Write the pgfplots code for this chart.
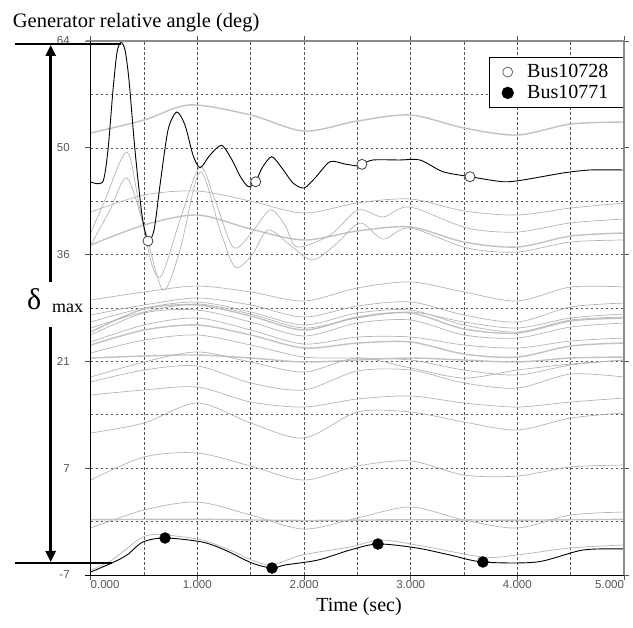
\documentclass[border=0pt]{standalone}
\usepackage{fontspec}
\setmainfont{Liberation Serif}
\newfontfamily\sansfont{Liberation Sans}
\usepackage{pgfplots}
\pgfplotsset{compat=1.18}
\usetikzlibrary{arrows.meta}
\definecolor{thinc}{RGB}{180,180,180}
\definecolor{thickc}{RGB}{194,194,194}
\definecolor{gridc}{RGB}{85,85,85}
\definecolor{framec}{RGB}{140,140,140}
\pgfplotsset{
  gthin/.style={thinc, line width=0.7pt, smooth, forget plot},
  gthick/.style={thickc, line width=1.4pt, smooth, forget plot},
}
\begin{document}
\begin{tikzpicture}
\useasboundingbox (0pt,0pt) rectangle (633pt,-628pt);
\begin{axis}[
  scale only axis, width=533.3pt, height=534pt,
  at={(90.7pt,-575pt)}, anchor=south west,
  xmin=0, xmax=5, ymin=-7, ymax=64,
  xtick={0,1,2,3,4,5},
  xticklabels={\makebox[0pt][l]{0.000},1.000,2.000,3.000,4.000,\makebox[0pt][r]{5.000}},
  minor xtick={0.5,1.5,2.5,3.5,4.5},
  ytick={-7,7.2,21.4,35.6,49.8,64}, yticklabels={-7,7,21,36,50,64},
  minor ytick={0.1,14.3,28.5,42.7,56.9},
  grid=both,
  major grid style={gridc, dash pattern=on 2.5pt off 2.5pt, line width=0.6pt},
  minor grid style={gridc, dash pattern=on 2.5pt off 2.5pt, line width=0.6pt},
  axis line style={draw=none},
  tick style={gridc, line width=0.8pt},
  tick align=outside, major tick length=5.5pt, minor tick length=0pt,
  ticklabel style={font=\sansfont\fontsize{11.5}{13}\selectfont, text=gridc},
  yticklabel style={xshift=-12pt},
  xticklabel style={yshift=4pt},
  clip=false,
  legend style={at={(1,0.970)}, anchor=north east, draw=black, line width=1.3pt,
    fill=white, font=\fontsize{20}{20}\selectfont, inner xsep=13pt, inner ysep=5pt,
    row sep=2pt, /tikz/every odd column/.append style={column sep=12pt}},
  legend cell align=left,
]
% light grey curves
\addplot[gthick] coordinates {(0,51.77)(0.5,53.49)(0.93,55.5)(1.5,54.16)(2,52.03)(2.5,53.36)(3,54.16)(3.5,52.43)(4,51.50)(4.5,52.96)(5,53.23)};
\addplot[gthin] coordinates {(0,41.26)(0.5,43.52)(1,44.05)(1.5,42.72)(2,41.13)(2.5,42.46)(3,42.99)(3.5,41.40)(4,40.86)(4.5,41.79)(5,42.46)};
\addplot[gthick] coordinates {(0,36.87)(0.5,39.53)(1,40.86)(1.5,39.00)(2,37.54)(2.5,38.74)(3,39.27)(3.5,37.27)(4,36.61)(4.5,38.07)(5,38.47)};
\addplot[gthin] coordinates {(0,38.47)(0.134,42.86)(0.34,49.24)(0.462,41.53)(0.575,34.22)(0.668,32.89)(0.837,40.20)(1.025,47.25)(1.165,42.86)(1.334,36.61)(1.493,38.20)(1.681,41.53)(1.822,39.53)(1.934,36.61)(2.244,38.20)(2.506,41.53)(2.74,40.60)(2.993,41.93)(3.528,39.14)(3.997,38.60)(4.493,39.80)(5,40.33)};
\addplot[gthin] coordinates {(0,36.87)(0.181,41.53)(0.34,45.78)(0.509,38.87)(0.678,30.89)(0.837,36.21)(1.025,46.58)(1.212,38.87)(1.353,33.95)(1.512,35.55)(1.662,38.87)(1.869,36.87)(2.075,34.89)(2.291,36.87)(2.525,39.80)(2.74,37.67)(2.993,39.14)(3.528,36.48)(3.997,35.94)(4.493,37.27)(5,37.54)};
\addplot[gthin] coordinates {(0,29.56)(0.5,30.63)(1,31.42)(1.5,30.63)(2,29.43)(2.5,31.16)(3,31.96)(3.5,30.63)(4,29.43)(4.5,31.29)(5,31.29)};
\addplot[gthin] coordinates {(0,27.57)(0.5,28.90)(1,29.83)(1.5,28.90)(2,27.30)(2.5,28.76)(3,29.30)(3.5,27.57)(4,26.64)(4.5,28.63)(5,29.16)};
\addplot[gthin] coordinates {(0,26.64)(0.5,28.50)(1,29.30)(1.5,27.97)(2,26.24)(2.5,27.83)(3,28.23)(3.5,26.24)(4,25.31)(4.5,26.90)(5,27.30)};
\addplot[gthick] coordinates {(0,25.31)(0.5,28.37)(1,28.90)(1.5,27.44)(2,25.57)(2.5,27.30)(3,27.83)(3.5,25.71)(4,25.17)(4.5,26.77)(5,27.17)};
\addplot[gthin] coordinates {(0,25.84)(0.5,27.97)(1,29.03)(1.5,27.70)(2,25.84)(2.5,27.17)(3,27.97)(3.5,26.64)(4,25.84)(4.5,27.17)(5,27.70)};
\addplot[gthin] coordinates {(0,24.91)(0.5,27.83)(1,28.23)(1.5,26.64)(2,24.78)(2.5,26.50)(3,26.90)(3.5,24.91)(4,24.51)(4.5,25.97)(5,26.50)};
\addplot[gthin] coordinates {(0,23.98)(0.5,26.24)(1,27.17)(1.5,25.57)(2,23.71)(2.5,24.64)(3,24.64)(3.5,23.58)(4,23.18)(4.5,24.11)(5,24.51)};
\addplot[gthick] coordinates {(0,23.58)(0.5,25.57)(1,26.24)(1.5,24.91)(2,23.18)(2.5,23.84)(3,23.98)(3.5,22.38)(4,21.98)(4.5,23.45)(5,23.84)};
\addplot[gthin] coordinates {(0,22.52)(0.5,24.24)(1,24.91)(1.5,23.58)(2,21.98)(2.5,21.85)(3,21.58)(3.5,20.25)(4,19.59)(4.5,20.92)(5,21.58)};
\addplot[gthick] coordinates {(0,21.85)(0.5,22.12)(1,22.25)(1.5,21.85)(2,21.32)(2.5,21.58)(3,21.85)(3.5,21.58)(4,21.32)(4.5,21.85)(5,21.98)};
\addplot[gthin] coordinates {(0,19.32)(0.5,21.32)(1,22.65)(1.5,21.32)(2,19.99)(2.5,21.85)(3,20.52)(3.5,19.19)(4,20.25)(4.5,21.05)(5,21.58)};
\addplot[gthin] coordinates {(0,18.66)(0.5,20.25)(1,20.79)(1.5,18.53)(2,17.60)(2.5,20.12)(3,20.25)(3.5,18.53)(4,17.86)(4.5,19.72)(5,19.32)};
\addplot[gthin] coordinates {(0,16.93)(0.5,17.60)(1,17.99)(1.5,16.00)(2,15.34)(2.5,16.40)(3,16.80)(3.5,15.87)(4,15.34)(4.5,16.00)(5,16.53)};
\addplot[gthin] coordinates {(0,11.88)(0.5,13.21)(1,15.87)(1.5,13.21)(2,11.21)(2.5,14.67)(3,14.67)(3.5,13.34)(4,12.28)(4.5,13.87)(5,14.54)};
\addplot[gthin] coordinates {(0,5.63)(0.5,8.69)(1,9.22)(1.5,7.49)(2,5.63)(2.5,7.49)(3,8.16)(3.5,6.29)(4,6.16)(4.5,7.36)(5,7.62)};
\addplot[gthin] coordinates {(0,-0.75)(0.5,1.64)(1,2.70)(1.5,0.98)(2,-0.89)(2.5,0.58)(3,2.04)(3.5,0.31)(4,-0.75)(4.5,0.98)(5,1.37)};
\addplot[gthick] coordinates {(0,0.35)(1,0.40)(2,0.25)(3,0.35)(4,0.30)(5,0.40)};
\addplot[gthin] coordinates {(0,-6.34)(0.2,-5.01)(0.49,-1.95)(0.697,-1.68)(1.043,-2.35)(1.306,-3.68)(1.512,-5.01)(1.7,-5.67)(1.981,-4.34)(2.431,-3.28)(2.712,-2.35)(3.059,-3.01)(3.677,-4.61)(3.996,-4.34)(4.493,-3.41)(5,-3.01)};
% Bus10728
\addplot[black, line width=0.9pt, smooth, tension=0.45, forget plot] coordinates {(0,45.25)(0.1125,45.25)(0.162,49.51)(0.209,57.48)(0.247,62.54)(0.284,63.8)(0.322,62.80)(0.359,58.81)(0.415,49.51)(0.481,40.86)(0.537,37.41)(0.594,38.87)(0.650,44.85)(0.725,52.17)(0.806,54.56)(0.884,52.83)(0.959,48.84)(1.025,47.15)(1.119,48.84)(1.228,50.13)(1.325,48.18)(1.400,46.05)(1.477,44.63)(1.547,45.29)(1.606,47.11)(1.697,48.62)(1.793,47.11)(1.897,45.12)(2.0,44.45)(2.103,45.78)(2.243,47.95)(2.384,47.64)(2.506,47.38)(2.543,47.60)(2.646,48.18)(2.899,48.18)(3.087,48.18)(3.303,46.62)(3.556,45.96)(3.865,45.29)(4.053,45.52)(4.428,46.45)(4.681,46.85)(5,46.85)};
% Bus10771
\addplot[black, line width=0.9pt, smooth, forget plot] coordinates {(0,-6.60)(0.197,-5.41)(0.34,-4.34)(0.49,-2.61)(0.697,-2.08)(1.043,-2.61)(1.259,-3.68)(1.512,-5.41)(1.7,-6.07)(1.822,-5.67)(2.131,-5.01)(2.431,-3.68)(2.693,-2.88)(3.059,-3.41)(3.368,-4.34)(3.677,-5.27)(4.183,-5.27)(4.615,-3.68)(5,-3.54)};
% markers
\addplot[only marks, mark=*, mark size=5pt, mark options={draw=black!75, fill=white, line width=0.8pt}, forget plot] coordinates {(0.537,37.41)(1.547,45.29)(2.543,47.60)(3.556,45.96)};
\addplot[only marks, mark=*, mark size=5.5pt, mark options={draw=black, fill=black}, forget plot] coordinates {(0.697,-2.08)(1.7,-6.07)(2.693,-2.88)(3.677,-5.27)};
\addlegendimage{only marks, mark=*, mark size=5pt, mark options={draw=black!60, fill=white, line width=0.8pt}}
\addlegendentry{Bus10728}
\addlegendimage{only marks, mark=*, mark size=5.5pt, mark options={draw=black, fill=black}}
\addlegendentry{Bus10771}
\end{axis}
% frame
\draw[framec, line width=1.8pt] (86pt,-40.7pt) -- (624pt,-40.7pt) -- (624pt,-575pt);
\draw[black, line width=0.9pt] (90.7pt,-40.7pt) -- (90.7pt,-575pt) -- (624pt,-575pt);
\draw[black, line width=0.9pt] (85pt,-575pt) -- (90.7pt,-575pt);
% delta max annotation
\draw[line width=2.2pt] (15pt,-44pt) -- (121pt,-44pt);
\draw[line width=2.2pt] (15pt,-563pt) -- (112pt,-563pt);
\draw[line width=2.5pt, -{Triangle[width=10pt,length=11pt]}] (50.7pt,-282pt) -- (50.7pt,-45pt);
\draw[line width=2.5pt, -{Triangle[width=10pt,length=11pt]}] (50.7pt,-327pt) -- (50.7pt,-562pt);
\node[anchor=base west, inner sep=0pt] at (27pt,-310pt) {\fontsize{30}{30}\selectfont δ};
\node[anchor=base west, inner sep=0pt] at (52pt,-313pt) {\fontsize{18}{18}\selectfont max};
% titles
\node[anchor=base west, inner sep=0pt] at (12.7pt,-28pt) {\fontsize{20.5}{24}\selectfont Generator relative angle (deg)};
\node[anchor=base, inner sep=0pt] at (359pt,-612pt) {\fontsize{20}{24}\selectfont Time (sec)};
\end{tikzpicture}
\end{document}
